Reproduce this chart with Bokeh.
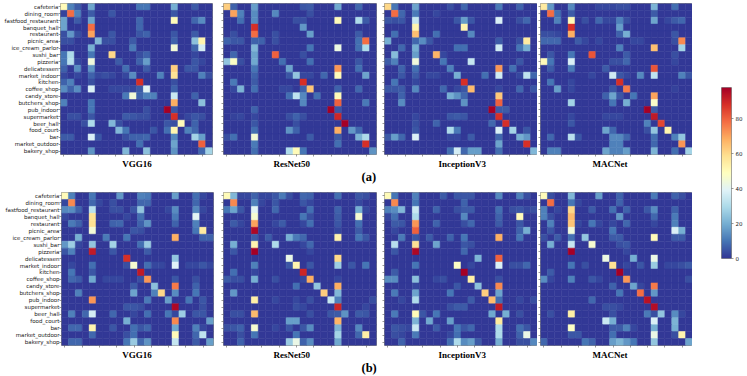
from bokeh.embed import file_html
from bokeh.resources import INLINE
from bokeh.plotting import figure
from bokeh.layouts import row, column
from bokeh.models import (ColumnDataSource, LinearColorMapper, Range1d, FixedTicker, Title)
from bokeh.transform import transform
import numpy as np

categories = ["cafeteria","dining_room","fastfood_restaurant","banquet_hall","restaurant","picnic_area",
              "ice_cream_parlor","sushi_bar","pizzeria","delicatessen","market_indoor","kitchen","coffee_shop",
              "candy_store","butchers_shop","pub_indoor","supermarket","beer_hall","food_court","bar",
              "market_outdoor","bakery_shop"]
colorbar_ticks = [0, 20, 40, 60, 80]
VMAX = 97.7

# row -> {column: percent}
vgg16_a = {
0:{0:50,1:12,2:6,4:18,11:10,12:10,16:20,19:6},
1:{0:2,1:78,2:12,4:6,7:5,16:5},
2:{0:18,2:6,4:18,11:8,16:50,19:8,20:14},
3:{0:18,4:78,11:8},
4:{0:4,1:16,2:4,4:70,7:5,11:5,12:7,16:5,19:6},
5:{0:4,1:4,5:22,6:4,7:4,10:6,16:7,19:24,20:52},
6:{4:20,10:11,16:45,19:8,20:37},
7:{0:10,1:30,4:10,7:60,11:4,12:7,19:3},
8:{0:10,1:32,2:3,4:44,8:6,11:7,12:17,19:5,20:3},
9:{0:7,2:14,4:15,9:9,12:6,16:62,18:5,19:5},
10:{0:3,2:3,4:7,5:3,6:4,7:3,9:3,10:14,14:12,16:58,20:12,21:4},
11:{0:7,1:12,4:4,11:88,16:4},
12:{0:14,1:7,2:14,4:38,7:3,8:3,9:3,10:3,11:6,12:40,16:7},
13:{9:11,10:45,11:7,12:12,13:12,16:35,19:7},
14:{0:12,4:10,16:68,20:24},
15:{4:10,12:4,15:98,16:5},
16:{1:4,2:4,4:5,9:6,10:5,11:4,12:4,16:88,18:3,19:5,20:4},
17:{3:4,4:30,7:22,8:4,15:5,16:4,17:50,19:7},
18:{8:22,9:10,13:5,15:9,16:52,18:12,19:8},
19:{0:6,1:6,4:38,5:5,9:4,10:7,11:7,12:8,16:13,19:28,20:17},
20:{11:9,16:18,20:80},
21:{4:15,9:22,12:24,16:15,20:8,21:28},
}
resnet50_a = {
0:{0:62,1:7,4:17,11:5,12:6,16:19,19:8},
1:{1:70,2:12,4:14,7:13,12:4},
2:{2:9,4:14,10:4,11:4,16:50,19:30,20:6},
3:{4:88,11:16},
4:{1:4,4:78,7:4,12:17,19:6},
5:{0:7,1:5,2:5,4:7,5:7,7:4,19:9,20:78},
6:{4:22,12:10,16:43,19:9,20:30},
7:{1:8,4:18,7:80,11:4},
8:{0:25,1:48,2:4,4:19,8:9,12:9,19:5},
9:{4:10,9:18,16:72,19:9},
10:{4:7,9:5,10:25,11:3,12:3,14:8,16:50,20:18},
11:{1:11,4:6,11:88},
12:{1:3,2:21,4:9,8:3,9:3,11:7,12:64,16:7,19:8},
13:{9:9,10:33,11:13,13:9,16:50},
14:{11:13,16:80,20:11},
15:{4:7,15:98,16:5},
16:{1:2,2:3,4:3,9:4,10:7,11:4,16:90},
17:{4:5,10:4,17:98},
18:{4:9,9:15,10:7,16:68,18:16,19:8},
19:{0:4,1:9,4:45,12:6,16:6,19:21,20:30},
20:{4:11,16:9,20:88},
21:{4:9,9:30,10:50,11:10,21:15},
}
inception_a = {
0:{0:60,1:10,4:18,9:4,11:8,16:11,19:7},
1:{1:78,2:8,4:11,7:3},
2:{0:5,1:4,2:5,4:34,10:5,11:17,12:5,16:38,19:4,20:8},
3:{4:52,11:52},
4:{1:9,4:65,7:9,12:13},
5:{0:20,4:8,5:14,6:5,16:6,19:4,20:55},
6:{2:8,4:20,10:9,11:9,16:36,19:10,20:20},
7:{1:23,4:17,7:67,8:3},
8:{0:6,1:12,4:44,8:10,12:34,19:5},
9:{2:7,4:9,9:12,16:72,18:9},
10:{2:5,4:6,6:3,7:3,10:20,14:9,16:36,19:3,20:33,21:8},
11:{1:10,4:3,11:88},
12:{0:5,1:5,2:6,4:13,8:8,10:3,11:5,12:66,16:3,19:8,21:5},
13:{2:7,9:20,10:15,11:8,16:63},
14:{2:14,11:15,16:80},
15:{15:98,16:6,17:6},
16:{4:3,9:5,10:6,11:5,16:88},
17:{4:4,7:7,15:8,17:88},
18:{4:5,9:30,10:11,16:38,18:28,20:5},
19:{0:6,1:17,2:8,4:38,9:3,10:3,12:6,16:8,19:20,20:16},
20:{16:18,20:88},
21:{9:9,10:37,11:8,12:17,13:17,16:9,21:22},
}
macnet_a = {
0:{0:55,1:16,4:13,8:3,9:3,10:3,11:4,12:4,16:21,19:9},
1:{1:78,2:9,4:6,16:6},
2:{2:12,4:50,6:4,8:8,9:3,10:3,11:12,12:4,16:18,18:3,19:6,20:8},
3:{4:88,11:17},
4:{0:4,1:4,2:3,4:68,11:7,12:20,19:5},
5:{0:8,1:8,2:8,5:6,6:3,8:3,13:3,14:3,19:4,20:74},
6:{11:12,16:65,20:28},
7:{1:5,4:10,7:82,12:6,19:4},
8:{0:50,1:10,4:38,10:4,11:4,12:8,19:3},
9:{1:6,4:11,9:6,16:82},
10:{7:3,10:36,11:5,12:3,14:13,16:33,20:12,21:5},
11:{1:10,4:3,11:88},
12:{2:17,4:3,10:5,12:76,19:2},
13:{9:7,10:18,11:5,13:10,16:70},
14:{4:28,10:10,12:20,16:47},
15:{15:98,16:6},
16:{4:3,9:3,10:3,11:3,16:92},
17:{4:5,15:12,17:84},
18:{9:18,10:8,15:4,16:25,18:52},
19:{1:8,4:32,5:5,10:13,11:13,12:8,16:9,19:12,20:25},
20:{10:12,11:12,16:8,20:72},
21:{1:12,2:12,9:18,10:12,11:12,12:17,16:21,19:9,21:28},
}
vgg16_b = {
0:{0:50,1:12,4:10,8:16,11:12,12:11,16:17,19:9,20:3},
1:{0:3,1:74,4:8,5:3,7:4,11:8,12:8,19:8},
2:{0:13,1:14,2:7,4:32,7:4,8:4,10:5,11:25,15:3,16:14,19:13,20:3},
3:{0:3,4:58,9:3,11:9,16:11,19:40},
4:{1:11,2:7,4:58,7:7,8:8,11:7,12:15,16:7,19:12},
5:{4:45,10:5,11:4,19:10,20:55},
6:{2:20,6:11,9:10,16:68,20:7,21:7},
7:{0:16,1:27,2:3,4:25,7:28,11:9,12:26},
8:{0:5,1:12,4:92,7:5,12:6},
9:{9:88,16:25},
10:{1:3,4:9,9:4,10:46,12:9,13:3,14:3,16:39,18:3,19:3,20:5,21:3},
11:{1:10,4:5,11:92},
12:{1:8,2:6,4:19,6:3,7:3,8:3,11:4,12:72,16:5,19:4},
13:{10:6,13:24,16:76,19:7},
14:{2:12,10:18,13:12,14:60,16:14,19:10},
15:{4:72,12:11,15:17,18:10,20:5},
16:{9:5,10:5,11:4,16:96,20:4},
17:{1:12,3:8,4:37,7:8,10:3,12:9,15:10,16:3,17:27,19:5,20:5},
18:{9:20,16:74,21:17},
19:{1:8,2:8,4:52,7:5,10:9,11:5,12:8,16:19,19:12,20:3},
20:{4:8,9:4,10:9,16:50,19:8,20:33},
21:{1:8,2:8,9:10,10:26,11:8,12:15,16:34,19:6,21:17},
}
resnet50_b = {
0:{0:50,1:22,2:3,3:3,4:7,5:3,6:3,7:5,8:11,9:4,11:8,12:7,16:9,19:5,20:4},
1:{1:74,4:12,5:3,7:5,11:5,12:3,19:3},
2:{0:10,1:18,2:5,4:40,7:8,12:9,16:7,19:20,20:3},
3:{4:46,11:10,12:4,16:6,19:46},
4:{1:6,2:3,4:70,7:3,8:6,11:3,12:9,16:5,19:9},
5:{4:96,16:3,19:6},
6:{4:6,6:6,9:20,10:11,11:8,16:53,19:10,20:5},
7:{1:20,4:52,7:30,11:3,12:8},
8:{1:5,4:98,12:3},
9:{9:42,16:60},
10:{4:12,9:5,10:52,12:5,16:27,18:5,20:10},
11:{1:9,4:3,11:90},
12:{0:6,1:4,2:4,4:20,7:4,11:3,12:68,16:3},
13:{10:9,13:25,16:68},
14:{1:16,14:62,16:22},
15:{4:54,7:3,10:3,12:4,15:34,16:12,21:4},
16:{10:4,11:3,16:90,20:3},
17:{1:4,2:4,4:66,12:4,15:5,16:6,17:15,19:6,20:5},
18:{9:17,10:17,16:67},
19:{0:4,1:5,2:7,4:46,7:3,9:5,11:5,12:14,16:21,19:13},
20:{2:4,4:10,10:10,16:28,19:8,20:54},
21:{2:7,9:26,10:42,11:7,12:14,16:19},
}
inception_b = {
0:{0:50,1:10,4:12,8:6,10:5,11:5,12:5,16:13,19:12,20:4},
1:{1:74,4:10,11:7},
2:{0:12,1:14,2:22,4:35,7:7,10:4,11:6,12:6,16:9,18:4,19:5,20:3,21:4},
3:{0:3,1:9,4:30,11:13,16:7,19:50},
4:{1:6,2:5,4:72,7:7,11:4,12:8,16:6,19:5},
5:{1:3,4:80,19:7,20:20},
6:{2:11,4:5,6:6,9:7,11:10,16:68,19:10},
7:{1:32,4:58,7:18,11:5,12:4},
8:{1:5,4:96,11:8},
9:{13:21,16:80},
10:{4:10,10:48,12:3,16:38,18:4,19:4,20:8},
11:{1:6,11:98},
12:{0:14,1:14,4:24,7:3,8:4,12:54,16:4},
13:{4:3,10:5,13:24,16:74},
14:{1:11,4:18,9:10,14:62,16:18},
15:{2:3,4:30,12:6,15:66,16:9,19:3,21:4},
16:{9:4,10:6,11:6,16:92},
17:{1:11,4:50,5:5,7:10,15:19,17:20,19:4},
18:{4:21,6:19,9:17,16:56},
19:{1:5,2:4,3:3,4:35,7:6,10:10,11:5,12:8,16:30,19:9,20:5},
20:{1:4,2:3,4:11,9:3,10:9,16:30,19:7,20:42},
21:{2:7,9:9,10:30,11:14,12:17,13:6,16:20,19:4,20:4,21:13},
}
macnet_b = {
0:{0:50,1:4,4:22,8:17,11:7,16:11,19:7,20:4},
1:{1:78,4:10,5:3,11:7},
2:{0:12,2:3,4:60,7:6,10:9,12:7,15:5,16:14,19:7},
3:{0:12,1:4,4:66,11:16,16:8,19:11},
4:{1:12,4:64,5:3,7:10,8:3,10:3,12:8,16:3,19:12},
5:{1:5,4:44,10:10,19:38,20:20},
6:{0:4,2:6,4:9,6:25,10:6,11:6,16:50,19:6,20:6},
7:{1:20,4:34,7:46,11:4,12:5},
8:{4:98,12:3},
9:{9:43,13:20,16:42},
10:{4:10,6:4,10:58,12:3,14:5,16:26,18:3,19:3,20:4,21:6},
11:{1:6,11:98},
12:{0:14,1:3,4:12,7:5,8:3,12:72,21:4},
13:{10:7,13:18,14:3,16:76},
14:{11:10,14:78,16:16},
15:{7:8,15:94},
16:{9:4,10:4,11:3,16:95},
17:{1:4,4:54,10:4,15:11,16:4,17:25,19:14,20:3},
18:{9:35,10:20,16:38,19:21},
19:{4:48,10:6,11:6,12:12,13:3,16:20,19:20},
20:{4:5,5:5,10:9,16:42,19:4,20:52},
21:{0:8,6:10,7:7,10:17,11:21,12:16,13:10,16:25,21:18},
}
BACKGROUND = 0.6

stops = ["#313695","#4575b4","#74add1","#abd9e9","#e0f3f8","#ffffbf","#fee090","#fdae61","#f46d43","#d73027","#a50026"]
rgb = np.array([[int(s[i:i+2], 16) for i in (1, 3, 5)] for s in stops], float)
pos = np.linspace(0, 1, 256) * 10
palette = ["#%02x%02x%02x" % tuple(int(round(np.interp(t, range(11), rgb[:, k]))) for k in range(3)) for t in pos]
mapper = LinearColorMapper(palette=palette, low=0, high=VMAX)

SPINE = "#8c8c8c"
TICK = "#555555"

def panel(data, title, title_offset, frame_w, frame_h, left, right, top, bottom, labels=False, tag=None, tag_standoff=0):
    n = len(categories)
    xs, ys, vs = [], [], []
    for r in range(n):
        for c in range(n):
            xs.append(c); ys.append(r); vs.append(data.get(r, {}).get(c, BACKGROUND))
    src = ColumnDataSource(dict(x=xs, y=ys, v=vs))
    p = figure(frame_width=frame_w, frame_height=frame_h, output_backend="svg", toolbar_location=None,
               x_range=Range1d(-0.5, n - 0.5), y_range=Range1d(n - 0.5, -0.5), tools="",
               min_border_left=left, min_border_right=right, min_border_top=top, min_border_bottom=bottom)
    p.rect("x", "y", 1, 1, source=src, fill_color=transform("v", mapper), line_color=transform("v", mapper), line_width=0.5)
    p.grid.visible = False
    p.outline_line_color = SPINE
    p.outline_line_width = 1
    xt = [2.5 * k for k in range(9)]
    p.xaxis.ticker = FixedTicker(ticks=xt)
    p.xaxis.major_label_overrides = {t: "" for t in xt}
    p.xaxis.axis_line_color = None
    p.xaxis.major_tick_line_color = TICK
    p.xaxis.major_tick_line_width = 0.6
    p.xaxis.major_tick_in = 0
    p.xaxis.major_tick_out = 2
    p.xaxis.minor_tick_line_color = None
    p.xaxis.major_label_standoff = 0
    p.add_layout(Title(text=title, align="left", offset=title_offset, standoff=1, text_font="Liberation Serif",
                       text_font_style="bold", text_font_size="9px", text_color="#000000"), "below")
    if tag:
        p.add_layout(Title(text=tag, align="left", offset=138, standoff=tag_standoff, text_font="Liberation Serif",
                           text_font_style="bold", text_font_size="12.5px", text_color="#000000"), "below")
    yt = list(range(n))
    p.yaxis.ticker = FixedTicker(ticks=yt)
    p.yaxis.axis_line_color = None
    p.yaxis.major_tick_line_color = TICK
    p.yaxis.major_tick_line_width = 0.6
    p.yaxis.major_tick_in = 0
    p.yaxis.major_tick_out = 2
    p.yaxis.minor_tick_line_color = None
    p.yaxis.major_label_standoff = 0
    p.yaxis.major_label_overrides = {i: (categories[i] if labels else "") for i in yt}
    p.yaxis.major_label_text_font = "DejaVu Sans"
    p.yaxis.major_label_text_font_size = "5.5px"
    p.yaxis.major_label_text_color = "#222222"
    return p

a1 = panel(vgg16_a, "VGG16", 61.7, 152, 151, 60, 8, 3, 36, labels=True)
a2 = panel(resnet50_a, "ResNet50", 50, 153, 151, 3, 5, 3, 36, tag="(a)", tag_standoff=-4)
a3 = panel(inception_a, "InceptionV3", 54, 153, 151, 3, 0, 3, 36)
a4 = panel(macnet_a, "MACNet", 52, 152, 151, 3, 0, 3, 36)

b1 = panel(vgg16_b, "VGG16", 60.7, 152, 153, 61, 7, 2, 31, labels=True)
b2 = panel(resnet50_b, "ResNet50", 50, 153, 153, 3, 5, 2, 31, tag="(b)", tag_standoff=-3)
b3 = panel(inception_b, "InceptionV3", 54, 153, 153, 3, 0, 2, 31)
b4 = panel(macnet_b, "MACNet", 52, 152, 153, 3, 0, 2, 31)

# colour bar
cb = figure(frame_width=10, frame_height=171, output_backend="svg", toolbar_location=None, tools="",
            x_range=Range1d(0, 1), y_range=Range1d(0, VMAX), y_axis_location="right",
            min_border_left=29, min_border_right=10, min_border_top=87, min_border_bottom=20)
cb.image(image=[np.linspace(0, VMAX, 256).reshape(256, 1)], x=0, y=0, dw=1, dh=VMAX, color_mapper=mapper)
cb.grid.visible = False
cb.xaxis.visible = False
cb.outline_line_color = SPINE
cb.yaxis.ticker = FixedTicker(ticks=colorbar_ticks)
cb.yaxis.axis_line_color = None
cb.yaxis.major_tick_line_color = TICK
cb.yaxis.major_tick_line_width = 0.6
cb.yaxis.major_tick_in = 0
cb.yaxis.major_tick_out = 2
cb.yaxis.minor_tick_line_color = None
cb.yaxis.major_label_standoff = 2
cb.yaxis.major_label_text_font = "DejaVu Sans"
cb.yaxis.major_label_text_font_size = "5.5px"
cb.yaxis.major_label_text_color = "#222222"

layout = row(column(row(a1, a2, a3, a4), row(b1, b2, b3, b4)), cb, margin=(0, 0, 0, 0))
open("out.html", "w").write(file_html(layout, INLINE))
